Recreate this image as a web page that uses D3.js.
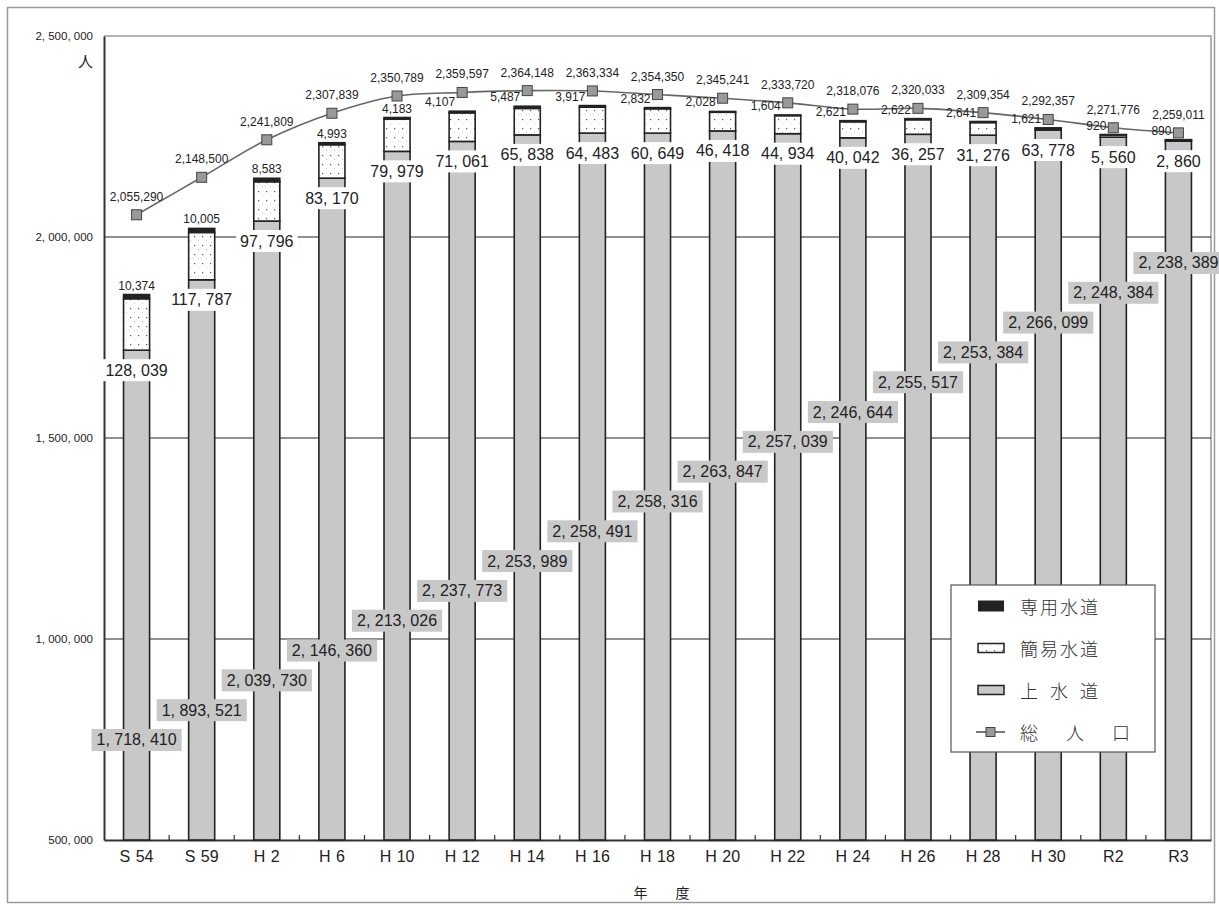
<!DOCTYPE html>
<html><head><meta charset="utf-8">
<script src="https://cdn.jsdelivr.net/npm/d3@7"></script>
<style>
html,body{margin:0;padding:0;background:#fff;}
svg{display:block;}
</style></head>
<body>
<svg id="chart" width="1219" height="910"></svg>
<script>
// ---- data ----
const years = ["S 54","S 59","H 2","H 6","H 10","H 12","H 14","H 16","H 18","H 20","H 22","H 24","H 26","H 28","H 30","R2","R3"];
const upperWater = [1718410,1893521,2039730,2146360,2213026,2237773,2253989,2258491,2258316,2263847,2257039,2246644,2255517,2253384,2266099,2248384,2238389];
const simpleWater = [128039,117787,97796,83170,79979,71061,65838,64483,60649,46418,44934,40042,36257,31276,3778,5560,2860];
const simpleLabels = ["128, 039","117, 787","97, 796","83, 170","79, 979","71, 061","65, 838","64, 483","60, 649","46, 418","44, 934","40, 042","36, 257","31, 276","63, 778","5, 560","2, 860"];
const privateWater = [10374,10005,8583,4993,4183,4107,5487,3917,2832,2028,1604,2621,2622,2641,1621,920,890];
const totalPop = [2055290,2148500,2241809,2307839,2350789,2359597,2364148,2363334,2354350,2345241,2333720,2318076,2320033,2309354,2292357,2271776,2259011];
const yTicks = [500000,1000000,1500000,2000000,2500000];
const legendLabels = ["専用水道","簡易水道","上 水 道","総　人　口"];
const xTitle = "年　　度";
const yUnit = "人";

// ---- layout ----
const svg = d3.select("#chart");
const L = 104, R = 1211, T = 36, B = 840;
const narrow = "'Liberation Sans Narrow','Arial Narrow',sans-serif";
const sans = "'Liberation Sans',Arial,sans-serif";
const cjk = "'Noto Sans CJK JP','Noto Sans',sans-serif";

const x = d3.scaleBand().domain(years).range([L, R]).paddingInner(0.6).paddingOuter(0.3);
const y = d3.scaleLinear().domain([500000, 2500000]).range([B, T]);
const cx = i => x(years[i]) + x.bandwidth() / 2;
const spFmt = v => d3.format(",")(v).replace(/,/g, ", ");

// pattern
const defs = svg.append("defs");
const pat = defs.append("pattern").attr("id","dots").attr("patternUnits","userSpaceOnUse")
  .attr("width",8).attr("height",9);
pat.append("rect").attr("width",8).attr("height",9).attr("fill","#fff");
pat.append("rect").attr("x",2).attr("y",2).attr("width",1.2).attr("height",1.2).attr("fill","#555");
pat.append("rect").attr("x",6).attr("y",6).attr("width",1).attr("height",1).attr("fill","#ccc");

// outer frame
svg.append("rect").attr("x",7.5).attr("y",7.5).attr("width",1207).attr("height",895)
  .attr("fill","none").attr("stroke","#9a9a9a").attr("stroke-width",1.5);

// plot border (top/right)
svg.append("path").attr("d",`M${L},${T}H${R}V${B}`).attr("fill","none").attr("stroke","#9a9a9a").attr("stroke-width",1.5);

// gridlines
svg.append("g").selectAll("line").data(yTicks.filter(v => v > 500000 && v < 2500000)).join("line")
  .attr("x1",L).attr("x2",R).attr("y1",d=>y(d)).attr("y2",d=>y(d))
  .attr("stroke","#222").attr("stroke-width",1);

// y axis
const yAxis = svg.append("g").attr("transform",`translate(${L},0)`)
  .call(d3.axisLeft(y).tickValues(yTicks).tickSize(0).tickPadding(11).tickFormat(spFmt));
yAxis.select(".domain").attr("stroke","#333").attr("stroke-width",2);
yAxis.selectAll("text").attr("font-family",sans).attr("font-size",11.5).attr("fill","#222");
svg.append("text").attr("x",93).attr("y",67).attr("text-anchor","end")
  .attr("font-family",cjk).attr("font-size",15).attr("fill","#222").text(yUnit);

// x axis
const xAxis = svg.append("g").attr("transform",`translate(0,${B})`)
  .call(d3.axisBottom(x).tickSize(0).tickPadding(11));
xAxis.select(".domain").attr("stroke","#333").attr("stroke-width",2);
xAxis.selectAll("text").attr("font-family",narrow).attr("font-size",16).attr("fill","#222")
  .style("word-spacing","1px");
// boundary ticks
svg.append("g").selectAll("line").data(years.slice(1)).join("line")
  .attr("x1",d=>x(d)-x.step()*0.3).attr("x2",d=>x(d)-x.step()*0.3)
  .attr("y1",B).attr("y2",B-5).attr("stroke","#333").attr("stroke-width",1.2);
svg.append("text").attr("x",(L+R)/2+4).attr("y",898).attr("text-anchor","middle")
  .attr("font-family",cjk).attr("font-size",14).attr("fill","#222").text(xTitle);

// bars
const bars = svg.append("g");
years.forEach((yr,i) => {
  const u = upperWater[i], s = simpleWater[i], p = privateWater[i];
  const bx = x(yr), bw = x.bandwidth();
  bars.append("rect").attr("x",bx).attr("y",y(u)).attr("width",bw).attr("height",B - y(u))
    .attr("fill","#c8c8c8").attr("stroke","#222").attr("stroke-width",1.6);
  bars.append("rect").attr("x",bx).attr("y",y(u+s)).attr("width",bw).attr("height",y(u)-y(u+s))
    .attr("fill","url(#dots)").attr("stroke","#222").attr("stroke-width",1.6);
  bars.append("rect").attr("x",bx).attr("y",y(u+s+p)).attr("width",bw).attr("height",Math.max(0.5,y(u+s)-y(u+s+p)))
    .attr("fill","#222").attr("stroke","#222").attr("stroke-width",1.6);
});

// total line
const line = d3.line().x((d,i)=>cx(i)).y(d=>y(d)).curve(d3.curveCatmullRom.alpha(0.5));
svg.append("path").datum(totalPop).attr("d",line).attr("fill","none").attr("stroke","#666").attr("stroke-width",1.6);
svg.append("g").selectAll("rect").data(totalPop).join("rect")
  .attr("x",(d,i)=>cx(i)-5).attr("y",d=>y(d)-5).attr("width",10).attr("height",10)
  .attr("fill","#999").attr("stroke","#444").attr("stroke-width",1);

// total labels
svg.append("g").selectAll("text").data(totalPop).join("text")
  .attr("x",(d,i)=>cx(i)).attr("y",d=>y(d)-14).attr("text-anchor","middle")
  .attr("font-family",sans).attr("font-size",12).attr("fill","#222")
  .text(d=>d3.format(",")(d));

// private water labels
const pl = svg.append("g");
years.forEach((yr,i)=>{
  const top = y(upperWater[i]+simpleWater[i]+privateWater[i]);
  const gap = top - y(totalPop[i]);
  const shift = gap < 20;
  pl.append("text")
    .attr("x", shift ? cx(i)-7 : cx(i))
    .attr("y", top - 5)
    .attr("text-anchor", shift ? "end" : "middle")
    .attr("font-family",sans).attr("font-size",12).attr("fill","#222")
    .text(d3.format(",")(privateWater[i]));
});

// simple water labels (white boxes)
const sl = svg.append("g");
years.forEach((yr,i)=>{
  const cy = y(upperWater[i]) + 20;
  const g = sl.append("g");
  const t = g.append("text").attr("x",cx(i)).attr("y",cy).attr("text-anchor","middle")
    .attr("dominant-baseline","central").attr("font-family",narrow).attr("font-size",16).attr("fill","#222")
    .text(simpleLabels[i]);
  const bb = t.node().getBBox();
  g.insert("rect","text").attr("x",bb.x-4).attr("y",cy-11).attr("width",bb.width+8).attr("height",22).attr("fill","#fff");
});

// upper water labels (gray boxes), stepped up across the plot
const ul = svg.append("g");
const h = B - T;
years.forEach((yr,i)=>{
  const cy = T + h * (0.8756 - i * (0.8756 - 0.2823) / (years.length - 1));
  const g = ul.append("g");
  const t = g.append("text").attr("x",cx(i)).attr("y",cy).attr("text-anchor","middle")
    .attr("dominant-baseline","central").attr("font-family",narrow).attr("font-size",16).attr("fill","#222")
    .text(spFmt(upperWater[i]));
  const bb = t.node().getBBox();
  g.insert("rect","text").attr("x",bb.x-5).attr("y",cy-11).attr("width",bb.width+10).attr("height",22).attr("fill","#c8c8c8");
});

// legend
const lg = svg.append("g");
lg.append("rect").attr("x",951).attr("y",585).attr("width",204).attr("height",167)
  .attr("fill","#fff").attr("stroke","#555").attr("stroke-width",1.2);
const rows = [606, 648, 690, 732];
lg.append("rect").attr("x",978).attr("y",rows[0]-5.5).attr("width",26).attr("height",11).attr("fill","#222");
lg.append("rect").attr("x",978).attr("y",rows[1]-4.5).attr("width",26).attr("height",9).attr("fill","url(#dots)").attr("stroke","#222").attr("stroke-width",1.5);
lg.append("rect").attr("x",978).attr("y",rows[2]-4.5).attr("width",26).attr("height",9).attr("fill","#c8c8c8").attr("stroke","#222").attr("stroke-width",1.5);
lg.append("line").attr("x1",976).attr("x2",1005).attr("y1",rows[3]).attr("y2",rows[3]).attr("stroke","#555").attr("stroke-width",1.6);
lg.append("rect").attr("x",986).attr("y",rows[3]-4.5).attr("width",9).attr("height",9).attr("fill","#999").attr("stroke","#444");
const lens = [78, 78, 78, 110];
legendLabels.forEach((t,i)=>{
  lg.append("text").attr("x",1020).attr("y",rows[i]).attr("dominant-baseline","central")
    .attr("font-family",cjk).attr("font-size",18).attr("font-weight",300).attr("fill","#333")
    .attr("textLength",lens[i]).attr("lengthAdjust","spacing").text(t);
});
</script>
</body></html>
